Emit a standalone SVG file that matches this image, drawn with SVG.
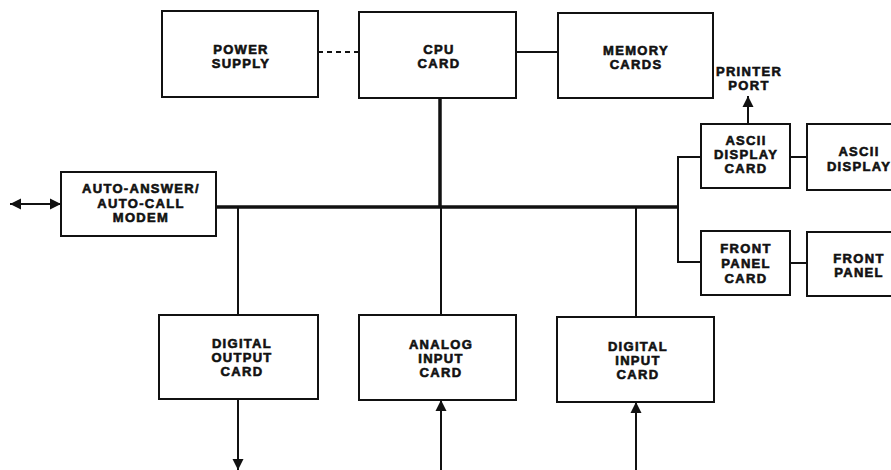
<svg xmlns="http://www.w3.org/2000/svg" width="891" height="470" viewBox="0 0 891 470">
<defs>
<style>
.box{fill:#fff;stroke:#111;stroke-width:2}
.t{font-family:"Liberation Sans",Arial,sans-serif;font-weight:bold;font-size:13px;letter-spacing:1.3px;fill:#111;stroke:#111;stroke-width:0.6;text-anchor:middle}
.c{stroke:#111;stroke-width:2;fill:none}
.bus{stroke:#111;stroke-width:3.5;fill:none}
.dash{stroke:#111;stroke-width:2;fill:none;stroke-dasharray:5 4}
</style>
<marker id="ah" viewBox="0 0 10 10" refX="10" refY="5" markerWidth="11" markerHeight="12" markerUnits="userSpaceOnUse" orient="auto-start-reverse">
<path d="M0,0 L10,5 L0,10 Z" fill="#111"/>
</marker>
</defs>
<rect width="891" height="470" fill="#fff"/>
<g id="connectors">
<line class="dash" x1="318" y1="52" x2="359" y2="52"/>
<line class="c" x1="516" y1="52" x2="558" y2="52"/>
<line class="bus" x1="440" y1="98" x2="440" y2="207"/>
<line class="bus" x1="216" y1="207" x2="679" y2="207"/>
<line class="c" x1="441" y1="207" x2="441" y2="315"/>
<line class="c" x1="238" y1="207" x2="238" y2="315"/>
<line class="c" x1="636" y1="207" x2="636" y2="317"/>
<polyline class="c" points="701,157 678,157 678,262 701,262"/>
<line class="c" x1="790" y1="157" x2="807" y2="157"/>
<line class="c" x1="790" y1="263" x2="807" y2="263"/>
<line class="c" x1="748" y1="124" x2="748" y2="96" marker-end="url(#ah)"/>
<line class="c" x1="10" y1="204" x2="61" y2="204" marker-start="url(#ah)" marker-end="url(#ah)"/>
<line class="c" x1="238" y1="399" x2="238" y2="470" marker-end="url(#ah)"/>
<line class="c" x1="441" y1="470" x2="441" y2="400" marker-end="url(#ah)"/>
<line class="c" x1="636" y1="470" x2="636" y2="402" marker-end="url(#ah)"/>
</g>
<g id="power-supply">
<rect class="box" x="162" y="11" width="156" height="86"/>
<text class="t" x="241" y="54">POWER</text>
<text class="t" x="241" y="68">SUPPLY</text>
</g>
<g id="cpu-card">
<rect class="box" x="359" y="12" width="157" height="86"/>
<text class="t" x="439" y="54">CPU</text>
<text class="t" x="439" y="68">CARD</text>
</g>
<g id="memory-cards">
<rect class="box" x="558" y="13" width="155" height="85"/>
<text class="t" x="636" y="55">MEMORY</text>
<text class="t" x="636" y="69">CARDS</text>
</g>
<g id="printer-port">
<text class="t" x="749" y="76">PRINTER</text>
<text class="t" x="749" y="90">PORT</text>
</g>
<g id="ascii-display-card">
<rect class="box" x="701" y="124" width="89" height="64"/>
<text class="t" x="746" y="145">ASCII</text>
<text class="t" x="746" y="159">DISPLAY</text>
<text class="t" x="746" y="173">CARD</text>
</g>
<g id="ascii-display">
<rect class="box" x="807" y="124" width="100" height="66"/>
<text class="t" x="859" y="156">ASCII</text>
<text class="t" x="859" y="171">DISPLAY</text>
</g>
<g id="front-panel-card">
<rect class="box" x="701" y="231" width="89" height="64"/>
<text class="t" x="746" y="253">FRONT</text>
<text class="t" x="746" y="268">PANEL</text>
<text class="t" x="746" y="283">CARD</text>
</g>
<g id="front-panel">
<rect class="box" x="807" y="232" width="100" height="64"/>
<text class="t" x="859" y="263">FRONT</text>
<text class="t" x="859" y="277">PANEL</text>
</g>
<g id="modem">
<rect class="box" x="61" y="172" width="155" height="64"/>
<text class="t" x="141" y="193">AUTO-ANSWER/</text>
<text class="t" x="141" y="207.5">AUTO-CALL</text>
<text class="t" x="141" y="222">MODEM</text>
</g>
<g id="digital-output-card">
<rect class="box" x="159" y="315" width="159" height="84"/>
<text class="t" x="242" y="348">DIGITAL</text>
<text class="t" x="242" y="362">OUTPUT</text>
<text class="t" x="242" y="376">CARD</text>
</g>
<g id="analog-input-card">
<rect class="box" x="359" y="315" width="157" height="85"/>
<text class="t" x="441" y="349">ANALOG</text>
<text class="t" x="441" y="363">INPUT</text>
<text class="t" x="441" y="377">CARD</text>
</g>
<g id="digital-input-card">
<rect class="box" x="557" y="317" width="157" height="85"/>
<text class="t" x="638" y="351">DIGITAL</text>
<text class="t" x="638" y="365">INPUT</text>
<text class="t" x="638" y="379">CARD</text>
</g>
</svg>
